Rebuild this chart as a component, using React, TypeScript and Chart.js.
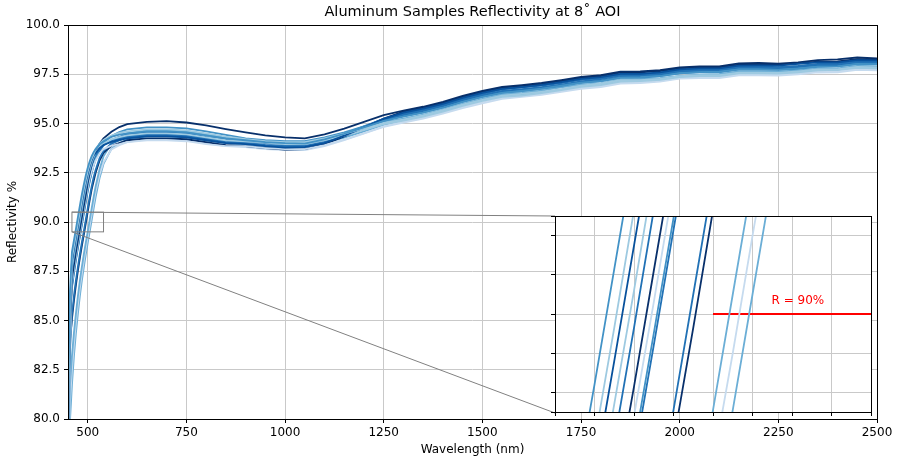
import React, { useEffect, useRef } from "react";
import { Chart, registerables } from "chart.js";

Chart.register(...registerables);

// ---------- data ----------
const wavelengths = [
  450, 455, 460, 465, 470, 475, 480, 485, 490, 495, 500, 505, 510, 515, 520, 530, 540, 560, 580,
  600, 650, 700, 750, 800, 850, 900, 950, 1000, 1050, 1100, 1150,
  1200, 1250, 1300, 1350, 1400, 1450, 1500, 1550, 1600, 1650, 1700, 1750, 1800, 1850,
  1900, 1950, 2000, 2050, 2100, 2150, 2200, 2250, 2300, 2350, 2400, 2450, 2500,
];

const sample01 = [81.0, 86.5, 88.48, 89.07, 89.64, 90.23, 90.82, 91.39, 91.9, 92.36, 92.75, 93.08, 93.34, 93.55, 93.71, 93.95, 94.1, 94.32, 94.44,
  94.5, 94.6, 94.6, 94.55, 94.4, 94.25, 94.15, 94.05, 94.0, 93.98, 94.2, 94.48,
  94.8, 95.13, 95.35, 95.55, 95.8, 96.1, 96.35, 96.56, 96.65, 96.77, 96.92, 97.07, 97.15, 97.33,
  97.35, 97.41, 97.55, 97.61, 97.63, 97.75, 97.75, 97.72, 97.78, 97.88, 97.9, 98.02, 98.0];
const sample02 = [79.5, 85.5, 88.17, 88.78, 89.35, 89.93, 90.53, 91.11, 91.66, 92.14, 92.57, 92.93, 93.22, 93.45, 93.71, 93.98, 94.16, 94.39, 94.53,
  94.6, 94.7, 94.7, 94.65, 94.5, 94.33, 94.2, 94.1, 94.05, 94.05, 94.25, 94.48,
  94.75, 95.03, 95.2, 95.41, 95.68, 95.96, 96.2, 96.41, 96.5, 96.6, 96.75, 96.92, 97.03, 97.2,
  97.2, 97.26, 97.4, 97.45, 97.45, 97.58, 97.58, 97.57, 97.65, 97.74, 97.75, 97.87, 97.85];
const sample03 = [78.5, 85.0, 87.98, 88.6, 89.18, 89.76, 90.35, 90.94, 91.49, 92.0, 92.44, 92.82, 93.13, 93.38, 93.49, 93.75, 93.91, 94.07, 94.17,
  94.25, 94.35, 94.35, 94.3, 94.15, 94.0, 93.95, 93.85, 93.78, 93.8, 94.0, 94.38,
  94.8, 95.23, 95.55, 95.75, 96.0, 96.3, 96.55, 96.76, 96.85, 96.96, 97.1, 97.26, 97.35, 97.52,
  97.52, 97.6, 97.75, 97.8, 97.8, 97.94, 97.95, 97.94, 98.03, 98.1, 98.1, 98.22, 98.2];
const sample04 = [78.0, 84.5, 87.73, 88.37, 88.96, 89.54, 90.12, 90.72, 91.29, 91.82, 92.28, 92.69, 93.03, 93.3, 93.52, 93.82, 93.98, 94.19, 94.31,
  94.4, 94.5, 94.5, 94.45, 94.3, 94.15, 94.1, 94.03, 93.95, 93.95, 94.15, 94.39,
  94.68, 94.97, 95.15, 95.35, 95.6, 95.9, 96.15, 96.35, 96.42, 96.54, 96.7, 96.86, 96.95, 97.13,
  97.15, 97.21, 97.35, 97.4, 97.4, 97.54, 97.55, 97.53, 97.6, 97.7, 97.72, 97.83, 97.8];
const sample05 = [79.0, 85.0, 87.52, 88.17, 88.78, 89.35, 89.93, 90.53, 91.11, 91.66, 92.14, 92.57, 92.93, 93.22, 93.41, 93.73, 93.93, 94.14, 94.23,
  94.35, 94.45, 94.45, 94.4, 94.25, 94.12, 94.0, 93.9, 93.85, 93.85, 94.05, 94.39,
  94.78, 95.17, 95.45, 95.65, 95.9, 96.2, 96.45, 96.66, 96.75, 96.84, 96.97, 97.14, 97.25, 97.43,
  97.45, 97.51, 97.65, 97.71, 97.73, 97.85, 97.85, 97.83, 97.9, 97.99, 98.0, 98.12, 98.1];
const sample06 = [80.0, 84.5, 87.15, 87.83, 88.47, 89.06, 89.63, 90.22, 90.81, 91.37, 91.98, 92.47, 92.9, 93.24, 93.53, 93.97, 94.25, 94.58, 94.82,
  94.97, 95.08, 95.12, 95.05, 94.9, 94.72, 94.55, 94.4, 94.3, 94.25, 94.45, 94.74,
  95.08, 95.42, 95.65, 95.85, 96.1, 96.4, 96.65, 96.86, 96.95, 97.06, 97.2, 97.36, 97.45, 97.63,
  97.65, 97.71, 97.85, 97.9, 97.9, 98.05, 98.08, 98.04, 98.1, 98.22, 98.25, 98.35, 98.3];
const sample07 = [77.0, 83.5, 86.97, 87.67, 88.31, 88.91, 89.48, 90.06, 90.66, 91.23, 91.77, 92.24, 92.56, 92.88, 93.13, 93.49, 93.7, 93.88, 93.95,
  94.05, 94.15, 94.15, 94.1, 93.95, 93.85, 93.85, 93.75, 93.7, 93.7, 93.9, 94.18,
  94.5, 94.83, 95.05, 95.25, 95.5, 95.78, 96.02, 96.25, 96.35, 96.46, 96.6, 96.76, 96.85, 97.03,
  97.05, 97.13, 97.28, 97.31, 97.3, 97.44, 97.45, 97.43, 97.5, 97.59, 97.6, 97.72, 97.7];
const sample08 = [79.5, 85.5, 86.76, 87.47, 88.13, 88.74, 89.32, 89.9, 90.49, 91.08, 91.62, 92.11, 92.6, 92.98, 93.29, 93.74, 94.03, 94.36, 94.56,
  94.7, 94.8, 94.8, 94.75, 94.6, 94.42, 94.25, 94.15, 94.1, 94.1, 94.3, 94.55,
  94.85, 95.17, 95.38, 95.56, 95.8, 96.1, 96.35, 96.56, 96.65, 96.76, 96.9, 97.06, 97.15, 97.32,
  97.32, 97.4, 97.55, 97.6, 97.6, 97.74, 97.75, 97.73, 97.8, 97.89, 97.9, 98.03, 98.02];
const sample09 = [80.0, 85.3, 86.68, 87.4, 88.07, 88.68, 89.26, 89.84, 90.43, 91.02, 91.57, 92.07, 92.5, 92.87, 93.17, 93.61, 93.88, 94.17, 94.32,
  94.45, 94.55, 94.55, 94.5, 94.32, 94.2, 94.1, 94.0, 93.95, 93.95, 94.15, 94.48,
  94.85, 95.23, 95.5, 95.7, 95.95, 96.25, 96.5, 96.73, 96.83, 96.92, 97.05, 97.21, 97.3, 97.48,
  97.5, 97.56, 97.7, 97.75, 97.75, 97.89, 97.9, 97.86, 97.92, 98.03, 98.05, 98.17, 98.15];
const sample10 = [78.0, 83.5, 85.34, 86.23, 87.01, 87.7, 88.35, 88.94, 89.51, 90.1, 90.69, 91.27, 91.8, 92.27, 92.64, 93.24, 93.61, 93.98, 94.14,
  94.3, 94.4, 94.4, 94.35, 94.2, 94.05, 94.0, 93.9, 93.85, 93.85, 94.05, 94.38,
  94.75, 95.13, 95.4, 95.61, 95.88, 96.16, 96.4, 96.61, 96.7, 96.81, 96.95, 97.09, 97.17, 97.37,
  97.4, 97.46, 97.6, 97.66, 97.68, 97.8, 97.8, 97.78, 97.85, 97.94, 97.95, 98.07, 98.05];
const sample11 = [79.0, 84.0, 85.08, 85.99, 86.8, 87.52, 88.17, 88.78, 89.35, 89.93, 90.53, 91.11, 91.66, 92.08, 92.5, 93.12, 93.51, 93.87, 94.01,
  94.15, 94.25, 94.25, 94.2, 94.05, 93.9, 93.85, 93.75, 93.68, 93.7, 93.95, 94.35,
  94.8, 95.25, 95.6, 95.8, 96.05, 96.35, 96.6, 96.81, 96.9, 97.01, 97.15, 97.31, 97.4, 97.58,
  97.6, 97.66, 97.8, 97.85, 97.85, 97.99, 98.0, 97.98, 98.05, 98.14, 98.15, 98.27, 98.25];
const sample12 = [77.5, 81.74, 83.19, 84.36, 85.34, 86.23, 87.01, 87.7, 88.35, 88.94, 89.51, 90.1, 90.69, 91.27, 91.8, 92.68, 93.33, 93.98, 94.27,
  94.5, 94.65, 94.65, 94.6, 94.45, 94.3, 94.2, 94.1, 94.05, 94.05, 94.25, 94.49,
  94.78, 95.07, 95.25, 95.45, 95.7, 96.0, 96.25, 96.46, 96.55, 96.67, 96.83, 96.97, 97.05, 97.23,
  97.25, 97.3, 97.42, 97.48, 97.5, 97.64, 97.65, 97.63, 97.7, 97.79, 97.8, 97.92, 97.9];
const sample13 = [77.0, 80.85, 82.49, 83.79, 84.86, 85.79, 86.63, 87.36, 88.03, 88.65, 89.23, 89.8, 90.4, 90.98, 91.54, 92.4, 93.03, 93.68, 93.9,
  94.05, 94.2, 94.2, 94.15, 94.0, 93.85, 93.8, 93.7, 93.65, 93.65, 93.85, 94.15,
  94.5, 94.85, 95.1, 95.3, 95.55, 95.85, 96.1, 96.31, 96.4, 96.51, 96.65, 96.81, 96.9, 97.08,
  97.1, 97.16, 97.3, 97.35, 97.35, 97.49, 97.5, 97.48, 97.55, 97.64, 97.65, 97.77, 97.75];
const sample14 = [76.5, 79.9, 81.74, 83.19, 84.36, 85.34, 86.23, 87.01, 87.7, 88.35, 88.94, 89.51, 90.1, 90.69, 91.27, 92.23, 92.95, 93.72, 94.0,
  94.2, 94.35, 94.35, 94.3, 94.15, 94.0, 93.95, 93.85, 93.8, 93.8, 94.0, 94.28,
  94.6, 94.93, 95.15, 95.35, 95.6, 95.9, 96.15, 96.36, 96.45, 96.56, 96.7, 96.86, 96.95, 97.12,
  97.12, 97.2, 97.35, 97.4, 97.4, 97.54, 97.55, 97.54, 97.63, 97.71, 97.7, 97.82, 97.8];

const samples = [
  sample01, sample02, sample03, sample04, sample05, sample06, sample07,
  sample08, sample09, sample10, sample11, sample12, sample13, sample14,
];
const sampleColors = [
  "#4292c6", "#9ecae1", "#08519c", "#9ecae1", "#2171b5", "#08306b", "#c6dbef",
  "#4292c6", "#2171b5", "#2171b5", "#08306b", "#6baed6", "#c6dbef", "#6baed6",
];

const xTicks = [500, 750, 1000, 1250, 1500, 1750, 2000, 2250, 2500];
const yTicks = [80, 82.5, 85, 87.5, 90, 92.5, 95, 97.5, 100];
const insetXTicks = [460, 470, 480, 490, 500, 510, 520, 530, 540];
const insetYTicks = [89.5, 89.6, 89.8, 90.0, 90.2, 90.4, 90.5];
const zoomX = [460, 540];
const zoomY = [89.5, 90.5];
const thresholdX = [500, 540];
const threshold = 90;
const thresholdLabel = "R = 90%";

const title = "Aluminum Samples Reflectivity at 8\u02DA AOI";
const xTitle = "Wavelength (nm)";
const yTitle = "Reflectivity %";

// ---------- layout ----------
const FONT = "'DejaVu Sans', sans-serif";
const W = 897;
const H = 460;
const INSET = { left: 555, top: 216, right: 871, bottom: 413 };
const INSET_MARGIN = 7;
const GRID = "#c9c9c9";

function seriesDatasets(width: number) {
  return samples.map((s, i) => ({
    data: wavelengths.map((w, j) => ({ x: w, y: s[j] })),
    borderColor: sampleColors[i],
    borderWidth: width,
    pointRadius: 0,
    fill: false,
    tension: 0,
    clip: 0,
  }));
}

export default function App() {
  const mainRef = useRef<HTMLCanvasElement | null>(null);
  const insetRef = useRef<HTMLCanvasElement | null>(null);

  useEffect(() => {
    const mainCanvas = mainRef.current!;
    const insetCanvas = insetRef.current!;

    const mainPlugin = {
      id: "mainDecor",
      afterDatasetsDraw(chart: any) {
        const { ctx, scales } = chart;
        const xs = scales.x;
        const ys = scales.y;
        const x0 = xs.getPixelForValue(zoomX[0]);
        const x1 = xs.getPixelForValue(zoomX[1]);
        const y0 = ys.getPixelForValue(zoomY[1]);
        const y1 = ys.getPixelForValue(zoomY[0]);
        ctx.save();
        ctx.strokeStyle = "#808080";
        ctx.lineWidth = 1;
        ctx.strokeRect(x0, y0, x1 - x0, y1 - y0);
        ctx.beginPath();
        ctx.moveTo(x0, y0);
        ctx.lineTo(INSET.left, INSET.top);
        ctx.moveTo(x0, y1);
        ctx.lineTo(INSET.left, INSET.bottom);
        ctx.stroke();
        ctx.restore();
      },
      afterDraw(chart: any) {
        const { ctx, chartArea: a } = chart;
        ctx.save();
        ctx.strokeStyle = "#000";
        ctx.lineWidth = 1;
        ctx.strokeRect(Math.round(a.left) + 0.5, Math.round(a.top) + 0.5, Math.round(a.right - a.left), Math.round(a.bottom - a.top));
        ctx.fillStyle = "#000";
        ctx.textAlign = "center";
        ctx.textBaseline = "middle";
        ctx.font = `14.5px ${FONT}`;
        ctx.fillText(title, (a.left + a.right) / 2, 12);
        ctx.font = `12px ${FONT}`;
        ctx.fillText(xTitle, (a.left + a.right) / 2, 449.5);
        ctx.translate(13, (a.top + a.bottom) / 2);
        ctx.rotate(-Math.PI / 2);
        ctx.fillText(yTitle, 0, 0);
        ctx.restore();
      },
    };

    const main = new Chart(mainCanvas, {
      type: "line",
      data: { datasets: seriesDatasets(1.8) as any },
      options: {
        animation: false,
        responsive: false,
        devicePixelRatio: 1,
        layout: { padding: { top: 25, right: 20, left: 0, bottom: 0 } },
        plugins: { legend: { display: false }, tooltip: { enabled: false }, title: { display: false } },
        scales: {
          x: {
            type: "linear",
            min: 450,
            max: 2500,
            afterBuildTicks: (s: any) => { s.ticks = xTicks.map((v) => ({ value: v })); },
            afterFit: (s: any) => { s.height = 41; },
            ticks: { font: { family: FONT, size: 12 }, color: "#000", padding: 3, maxRotation: 0, autoSkip: false, callback: (v: any) => String(v) },
            grid: { color: GRID, lineWidth: 1, tickLength: 4, tickColor: "#000", tickWidth: 1 },
            border: { display: false },
          },
          y: {
            type: "linear",
            min: 80,
            max: 100,
            afterBuildTicks: (s: any) => { s.ticks = yTicks.map((v) => ({ value: v })); },
            afterFit: (s: any) => { s.width = 68; },
            ticks: { font: { family: FONT, size: 12 }, color: "#000", padding: 4, autoSkip: false, callback: (v: any) => Number(v).toFixed(1) },
            grid: { color: GRID, lineWidth: 1, tickLength: 4, tickColor: "#000", tickWidth: 1 },
            border: { display: false },
          },
        },
      } as any,
      plugins: [mainPlugin as any],
    });

    const insetPlugin = {
      id: "insetDecor",
      beforeDraw(chart: any) {
        const { ctx, chartArea: a } = chart;
        ctx.save();
        ctx.fillStyle = "#fff";
        ctx.fillRect(a.left, a.top, a.right - a.left, a.bottom - a.top);
        ctx.restore();
      },
      afterDraw(chart: any) {
        const { ctx, chartArea: a, scales } = chart;
        ctx.save();
        ctx.strokeStyle = "#000";
        ctx.lineWidth = 1;
        ctx.strokeRect(Math.round(a.left) + 0.5, Math.round(a.top) + 0.5, Math.round(a.right - a.left), Math.round(a.bottom - a.top));
        ctx.fillStyle = "red";
        ctx.font = `12px ${FONT}`;
        ctx.textAlign = "center";
        ctx.textBaseline = "alphabetic";
        ctx.fillText(thresholdLabel, scales.x.getPixelForValue(521.5), scales.y.getPixelForValue(threshold) - 10);
        ctx.restore();
      },
    };

    const inset = new Chart(insetCanvas, {
      type: "line",
      data: {
        datasets: [
          ...(seriesDatasets(1.8) as any),
          {
            data: thresholdX.map((x) => ({ x, y: threshold })),
            borderColor: "#ff0000",
            borderWidth: 2,
            pointRadius: 0,
            clip: 0,
          },
        ],
      },
      options: {
        animation: false,
        responsive: false,
        devicePixelRatio: 1,
        layout: { padding: { top: INSET_MARGIN, right: INSET_MARGIN, left: 0, bottom: 0 } },
        plugins: { legend: { display: false }, tooltip: { enabled: false }, title: { display: false } },
        scales: {
          x: {
            type: "linear",
            min: zoomX[0],
            max: zoomX[1],
            afterBuildTicks: (s: any) => { s.ticks = insetXTicks.map((v) => ({ value: v })); },
            afterFit: (s: any) => { s.height = 8; },
            ticks: { display: true, padding: 0, autoSkip: false, maxRotation: 0, callback: () => "" },
            grid: { color: GRID, lineWidth: 1, tickLength: 4, tickColor: "#000", tickWidth: 1 },
            border: { display: false },
          },
          y: {
            type: "linear",
            min: zoomY[0],
            max: zoomY[1],
            afterBuildTicks: (s: any) => { s.ticks = insetYTicks.map((v) => ({ value: v })); },
            afterFit: (s: any) => { s.width = INSET_MARGIN; },
            ticks: { display: true, padding: 0, autoSkip: false, callback: () => "" },
            grid: { color: GRID, lineWidth: 1, tickLength: 4, tickColor: "#000", tickWidth: 1 },
            border: { display: false },
          },
        },
      } as any,
      plugins: [insetPlugin as any],
    });

    return () => {
      main.destroy();
      inset.destroy();
    };
  }, []);

  const insetW = INSET.right - INSET.left + 2 * INSET_MARGIN;
  const insetH = INSET.bottom - INSET.top + 2 * INSET_MARGIN;

  return (
    <div style={{ position: "absolute", left: 0, top: 0, width: W, height: H, background: "#fff" }}>
      <canvas ref={mainRef} width={W} height={H} style={{ position: "absolute", left: 0, top: 0 }} />
      <canvas
        ref={insetRef}
        width={insetW}
        height={insetH}
        style={{ position: "absolute", left: INSET.left - INSET_MARGIN, top: INSET.top - INSET_MARGIN }}
      />
    </div>
  );
}
